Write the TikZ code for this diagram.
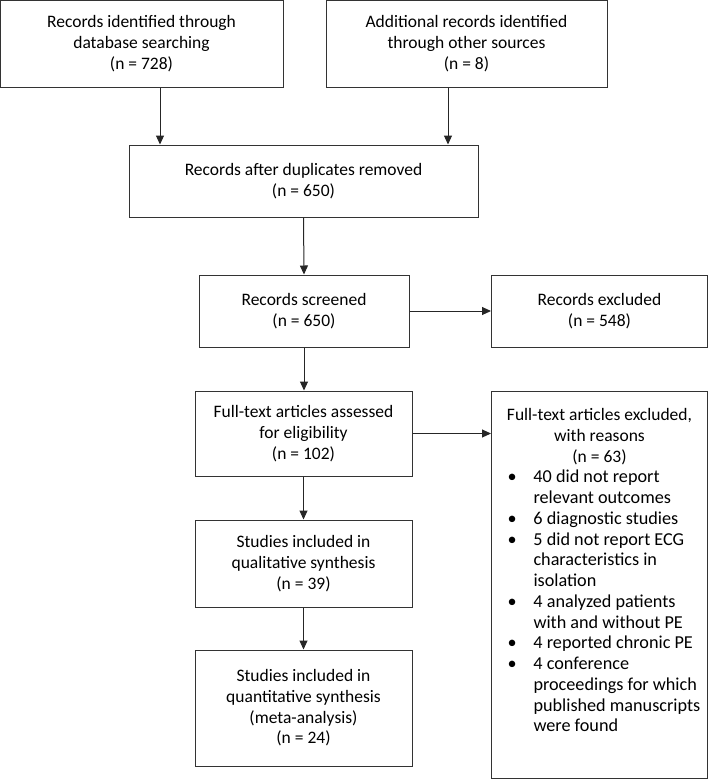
\documentclass[tikz,border=0pt]{standalone}
\usepackage{fontspec}
\setmainfont{Carlito}
\usetikzlibrary{arrows.meta}

\newcommand\bul[1]{\par\noindent\makebox[34pt][l]{\hspace{8pt}\textbullet}\mbox{#1}}
\newcommand\cnt[1]{\par\noindent\hspace*{34pt}\mbox{#1}}

\begin{document}
\begin{tikzpicture}[x=1pt, y=-1pt,
    every node/.style = {draw=black!80, line width=1pt, align=center,
      font=\fontsize{17.5}{20.75}\selectfont, inner sep=0pt},
    arr/.style = {-{Triangle[length=9pt,width=8pt]}, draw=black!85, line width=1pt}]
  \useasboundingbox (0,0) rectangle (709,780);
  % identification
  \node[minimum width=283pt, minimum height=87pt] (recdb) at (141.5,43.5)
    {Records identified through\\ database searching\\ (n = 728)};
  \node[minimum width=281pt, minimum height=87pt] (recoth) at (466.5,43.5)
    {Additional records identified\\ through other sources\\ (n = 8)};
  \node[minimum width=349pt, minimum height=72pt] (dup) at (303.5,181)
    {Records after duplicates removed\\ (n = 650)};
  % screening
  \node[minimum width=210pt, minimum height=72pt] (screen) at (304,311)
    {Records screened\\ (n = 650)};
  \node[minimum width=216pt, minimum height=72pt] (excl) at (599.5,311)
    {Records excluded\\ (n = 548)};
  % eligibility
  \node[minimum width=217pt, minimum height=85pt] (full) at (303.5,433.5)
    {Full-text articles assessed\\ for eligibility\\ (n = 102)};
  \node[anchor=north, minimum width=216pt] (reasons) at (599.5,391)
    {\parbox[c][387pt][t]{200pt}{\vspace*{17pt}%
      {\centering Full-text articles excluded,\\ with reasons\\ (n = 63)\par}
      \raggedright\fontsize{18.2}{20.75}\selectfont
      \bul{40 did not report}
      \cnt{relevant outcomes}
      \bul{6 diagnostic studies}
      \bul{5 did not report ECG}
      \cnt{characteristics in}
      \cnt{isolation}
      \bul{4 analyzed patients}
      \cnt{with and without PE}
      \bul{4 reported chronic PE}
      \bul{4 conference}
      \cnt{proceedings for which}
      \cnt{published manuscripts}
      \cnt{were found}\par}};
  % included
  \node[minimum width=217pt, minimum height=87pt] (qual) at (303.5,563.5)
    {Studies included in\\ qualitative synthesis\\ (n = 39)};
  \node[minimum width=217pt, minimum height=116pt] (quant) at (303.5,708)
    {Studies included in\\ quantitative synthesis\\ (meta-analysis)\\ (n = 24)};

  \draw[arr] ([xshift=18.5pt]recdb.south) -- ([xshift=18.5pt]recdb.south |- dup.north);
  \draw[arr] ([xshift=-18.5pt]recoth.south) -- ([xshift=-18.5pt]recoth.south |- dup.north);
  \draw[arr] (dup.south) -- (screen.north);
  \draw[arr] (screen.east) -- (excl.west);
  \draw[arr] (screen.south) -- (screen.south |- full.north);
  \draw[arr] (full.east) -- (full.east -| reasons.west);
  \draw[arr] (full.south) -- (qual.north);
  \draw[arr] (qual.south) -- (quant.north);
\end{tikzpicture}
\end{document}
